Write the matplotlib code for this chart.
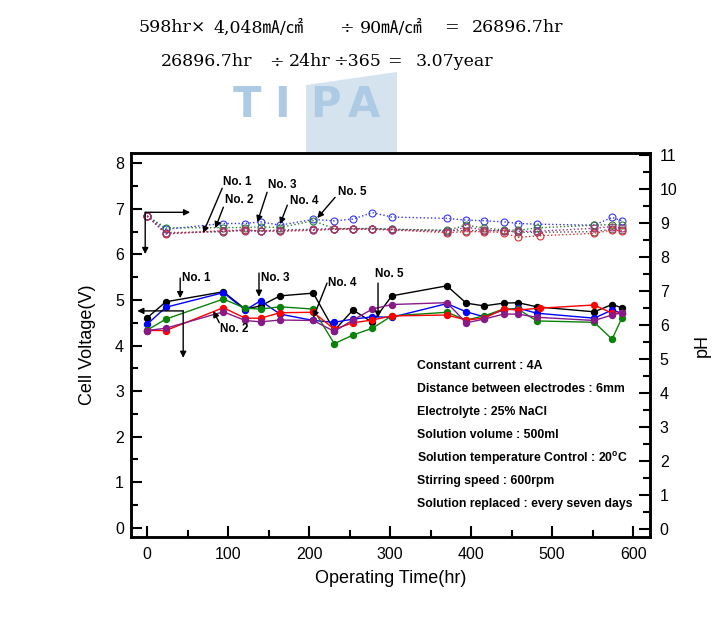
import matplotlib
matplotlib.use('Agg')
import matplotlib.pyplot as plt
from matplotlib.patches import Polygon
from matplotlib.ticker import MultipleLocator

# operating time (hr)
hours = [0, 23, 94, 121, 140, 164, 205, 231, 254, 278, 302, 370, 394, 416, 440, 458, 481, 552, 574, 586]
hours_red = [0, 23, 94, 121, 140, 164, 205, 231, 254, 278, 302, 370, 394, 416, 440, 458, 485, 552, 574, 586]

# cell voltage (V)
v_black = [4.61, 4.96, 5.18, 4.80, 4.87, 5.09, 5.15, 4.33, 4.78, 4.51, 5.09, 5.31, 4.93, 4.87, 4.93, 4.94, 4.85, 4.74, 4.90, 4.83]
v_blue = [4.47, 4.84, 5.16, 4.78, 4.98, 4.69, 4.55, 4.51, 4.58, 4.63, 4.62, 4.92, 4.74, 4.63, 4.78, 4.82, 4.71, 4.60, 4.78, 4.71]
v_green = [4.34, 4.58, 5.02, 4.82, 4.80, 4.85, 4.80, 4.04, 4.23, 4.38, 4.65, 4.73, 4.56, 4.65, 4.80, 4.80, 4.54, 4.51, 4.14, 4.60]
v_red = [4.33, 4.33, 4.83, 4.60, 4.60, 4.72, 4.73, 4.36, 4.50, 4.56, 4.65, 4.67, 4.56, 4.60, 4.80, 4.78, 4.82, 4.89, 4.71, 4.71]
v_purple = [4.33, 4.38, 4.74, 4.55, 4.52, 4.56, 4.55, 4.31, 4.56, 4.80, 4.90, 4.94, 4.50, 4.58, 4.69, 4.69, 4.62, 4.55, 4.67, 4.72]

# pH
ph_blue = [9.21, 8.82, 8.99, 8.99, 9.04, 8.94, 9.11, 9.07, 9.12, 9.31, 9.18, 9.14, 9.09, 9.07, 9.04, 8.99, 8.97, 8.94, 9.17, 9.07]
ph_green = [9.21, 8.86, 8.87, 8.87, 8.89, 8.87, 9.07, 8.84, 8.84, 8.84, 8.82, 8.79, 8.94, 8.86, 8.80, 8.79, 8.86, 8.94, 8.96, 8.95]
ph_red = [9.21, 8.68, 8.78, 8.80, 8.77, 8.76, 8.79, 8.82, 8.82, 8.82, 8.80, 8.72, 8.75, 8.75, 8.72, 8.58, 8.63, 8.70, 8.80, 8.78]
ph_dark = [9.21, 8.72, 8.75, 8.80, 8.77, 8.80, 8.82, 8.84, 8.84, 8.84, 8.82, 8.78, 8.78, 8.78, 8.78, 8.73, 8.73, 8.75, 8.82, 8.80]
ph_purple = [9.21, 8.70, 8.76, 8.78, 8.76, 8.78, 8.80, 8.83, 8.83, 8.83, 8.81, 8.75, 8.88, 8.80, 8.76, 8.76, 8.76, 8.85, 8.90, 8.85]

conditions = [
    'Constant current : 4A',
    'Distance between electrodes : 6mm',
    'Electrolyte : 25% NaCl',
    'Solution volume : 500ml',
    r'Solution temperature Control : 20$^{\mathregular{o}}$C',
    'Stirring speed : 600rpm',
    'Solution replaced : every seven days',
]

# formula pieces: text, x (px), horizontal alignment
formula1 = [('598hr×', 138, 'left'), ('4,048㎃/㎠', 214, 'left'), ('÷', 346, 'center'),
            ('90㎃/㎠', 360, 'left'), ('=', 451, 'center'), ('26896.7hr', 472, 'left')]
formula2 = [('26896.7hr', 161, 'left'), ('÷', 276, 'center'), ('24hr', 289, 'left'),
            ('÷365', 333, 'left'), ('=', 394, 'center'), ('3.07year', 416, 'left')]

plt.rcParams['font.family'] = ['Liberation Sans', 'DejaVu Sans']
plt.rcParams['mathtext.default'] = 'regular'

fig = plt.figure(figsize=(7.28, 6.17), dpi=100)
ax = fig.add_axes([0.180, 0.1297, 0.713, 0.622])
ax2 = ax.twinx()

# watermark
fig.add_artist(Polygon([(306/728, 1-85/617), (397/728, 1-72/617), (397/728, 1-153/617), (306/728, 1-153/617)],
                       closed=True, transform=fig.transFigure, facecolor='#d5e3ef', edgecolor='none', zorder=0))
for ch, px in zip('TIPA', [247, 282, 325, 364]):
    fig.text(px/728, 1-105/617, ch, ha='center', va='center', fontsize=30, fontweight='bold',
             family='DejaVu Sans', color='#aecbe6', zorder=1)

# formula lines
fml = dict(va='center', fontsize=12.5, family=['DejaVu Serif', 'Noto Sans CJK KR'])
for txt, px, ha in formula1:
    fig.text(px/728, 1-28/617, txt, ha=ha, **fml)
for txt, px, ha in formula2:
    fig.text(px/728, 1-62/617, txt, ha=ha, **fml)

# voltage curves
for ys, xs, c in [(v_black, hours, 'black'), (v_blue, hours, '#0000ff'), (v_green, hours, '#0a820a'),
                  (v_red, hours_red, '#ff0000'), (v_purple, hours, '#881a88')]:
    ax.plot(xs, ys, '-o', color=c, lw=1, ms=4.3)

# pH curves
for ys, xs, c in [(ph_blue, hours, '#3535f0'), (ph_green, hours, '#2f7d32'), (ph_dark, hours, '#555555'),
                  (ph_red, hours_red, '#e03030'), (ph_purple, hours, '#a03080')]:
    ax2.plot(xs, ys, ':o', color=c, lw=1, ms=5, mfc='none', mew=0.8)

ax.set_xlim(-20, 621)
ax.set_ylim(-0.2, 8.22)
ax2.set_ylim(-0.24, 11.06)

ax.xaxis.set_major_locator(MultipleLocator(100))
ax.xaxis.set_minor_locator(MultipleLocator(50))
ax.yaxis.set_major_locator(MultipleLocator(1))
ax.yaxis.set_minor_locator(MultipleLocator(0.5))
ax2.yaxis.set_major_locator(MultipleLocator(1))
ax2.yaxis.set_minor_locator(MultipleLocator(0.5))

ax.tick_params(axis='both', which='major', direction='in', length=8, width=1.5, labelsize=11.5, pad=5)
ax.tick_params(axis='both', which='minor', direction='in', length=5, width=1.5)
ax.tick_params(axis='x', pad=7)
ax.tick_params(right=False, top=False, which='both')
ax2.tick_params(axis='y', which='major', direction='in', length=8, width=1.5, labelsize=11.5, pad=7)
ax2.tick_params(axis='y', which='minor', direction='in', length=5, width=1.5)
for a in (ax, ax2):
    for s in a.spines.values():
        s.set_linewidth(1.8)

ax.set_xlabel('Operating Time(hr)', fontsize=13, labelpad=6)
ax.set_ylabel('Cell Voltage(V)', fontsize=13, labelpad=14)
ax2.set_ylabel('pH', fontsize=13, labelpad=12)

lab = dict(fontsize=8.4, fontweight='bold')
arr = dict(arrowstyle='-|>', color='black', lw=1, mutation_scale=9, shrinkA=0, shrinkB=0)

# pH labels
for txt, tx, ty, ax0, ay0, ax1, ay1 in [
        ('No. 1', 93, 10.2, 92.6, 10.03, 69, 8.71),
        ('No. 2', 96, 9.68, 94, 9.47, 84, 8.85),
        ('No. 3', 149, 10.12, 148, 9.91, 136, 9.03),
        ('No. 4', 176.5, 9.65, 173, 9.53, 164, 8.97),
        ('No. 5', 236, 9.91, 232, 9.76, 210, 9.15)]:
    ax2.text(tx, ty, txt, ha='left', va='center', **lab)
    ax2.annotate('', xy=(ax1, ay1), xytext=(ax0, ay0), arrowprops=arr)

# bracket arrows pointing to the axes
ax2.annotate('', xy=(53, 9.32), xytext=(-2.5, 9.32), arrowprops=arr)
ax2.annotate('', xy=(-2.5, 8.09), xytext=(-2.5, 9.32), arrowprops=arr)
ax.annotate('', xy=(-12.3, 4.76), xytext=(44.4, 4.76), arrowprops=arr)
ax.annotate('', xy=(44.4, 3.73), xytext=(44.4, 4.76), arrowprops=arr)

# voltage labels
for txt, tx, ty, ax0, ay0, ax1, ay1 in [
        ('No. 1', 43, 5.48, 40.7, 5.48, 40.7, 5.04),
        ('No. 2', 89.5, 4.36, 89, 4.50, 81.5, 4.76),
        ('No. 3', 141, 5.48, 138, 5.59, 138, 5.07),
        ('No. 4', 223, 5.37, 222, 5.37, 205, 4.61),
        ('No. 5', 281, 5.57, 285, 5.37, 285, 4.61)]:
    ax.text(tx, ty, txt, ha='left', va='center', **lab)
    ax.annotate('', xy=(ax1, ay1), xytext=(ax0, ay0), arrowprops=arr)

# experimental conditions
for i, line in enumerate(conditions):
    ax.text(0.551, (537 - (366 + i * 23.05)) / 384, line, transform=ax.transAxes,
            ha='left', va='center', fontsize=8.8, fontweight='bold')

fig.savefig('out.png', dpi=100)
